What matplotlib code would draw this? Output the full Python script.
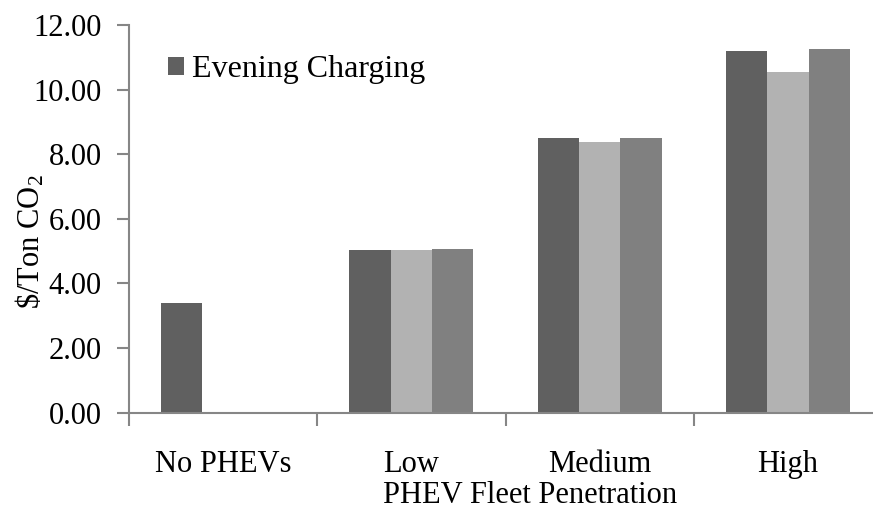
import numpy as np
import matplotlib.pyplot as plt
from matplotlib.ticker import FixedLocator, NullFormatter

plt.rcParams['font.family'] = 'Liberation Serif'
plt.rcParams['mathtext.fontset'] = 'custom'
plt.rcParams['mathtext.rm'] = 'Liberation Serif'
plt.rcParams['mathtext.it'] = 'Liberation Serif:italic'

categories = ['No PHEVs', 'Low', 'Medium', 'High']
evening = [3.40, 5.03, 8.49, 11.20]
series_b = [np.nan, 5.02, 8.39, 10.56]
series_c = [np.nan, 5.06, 8.50, 11.25]
yticks = [0, 2, 4, 6, 8, 10, 12]

fs = 22
axis_grey = '#868686'

fig = plt.figure(figsize=(8.73, 5.08), dpi=100)
ax = fig.add_axes([129 / 873, 95.5 / 508, 753 / 873, 387.5 / 508])

x = np.arange(len(categories))
w = 0.22
ax.bar(x - w, evening, w, color='#606060', label='Evening Charging')
ax.bar(x, series_b, w, color='#b2b2b2')
ax.bar(x + w, series_c, w, color='#808080')

ax.set_xlim(-0.5, 3.5)
ax.set_ylim(0, 12)
ax.set_yticks(yticks)
ax.set_yticklabels(['%.2f' % v for v in yticks])

# category names centred under groups, tick marks between groups
ax.set_xticks(x)
ax.set_xticklabels(categories)
ax.xaxis.set_minor_locator(FixedLocator(np.arange(-0.5, 4.0, 1.0)))
ax.xaxis.set_minor_formatter(NullFormatter())
ax.tick_params(axis='x', which='major', length=0, pad=27, labelsize=fs)
ax.tick_params(axis='x', which='minor', length=9, width=1.5, color=axis_grey, direction='out')
ax.tick_params(axis='y', length=9, width=1.5, color=axis_grey, direction='out', pad=10.5, labelsize=fs)

for side in ('top', 'right'):
    ax.spines[side].set_visible(False)
for side in ('left', 'bottom'):
    ax.spines[side].set_color(axis_grey)
    ax.spines[side].set_linewidth(1.5)

ax.set_ylabel(r'\$/Ton CO$_2$', fontsize=fs)
ax.yaxis.set_label_coords(-0.11, 0.44)
ax.set_xlabel('PHEV Fleet Penetration', fontsize=fs)
ax.xaxis.set_label_coords((530 - 129) / 753, -0.176)

ax.legend(loc='upper left', bbox_to_anchor=(0.035, 0.955), frameon=False,
          fontsize=23, handlelength=0.5, handleheight=0.5, handletextpad=0.25,
          borderaxespad=0)

fig.savefig('out.png', dpi=100)
